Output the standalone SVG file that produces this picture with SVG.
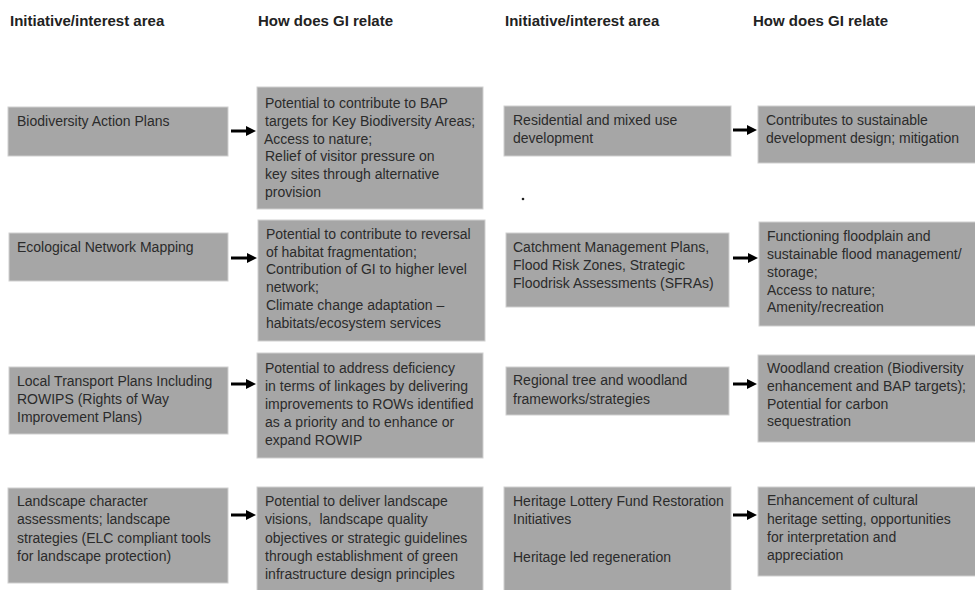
<svg xmlns="http://www.w3.org/2000/svg" width="975" height="590" viewBox="0 0 975 590">
<defs>
<style>
.box{fill:#a6a6a6;stroke:#cfcfcf;stroke-width:1}
.t{font-family:"Liberation Sans",Arial,sans-serif;font-size:14px;fill:#2b2b2b}
.h{font-family:"Liberation Sans",Arial,sans-serif;font-size:15px;font-weight:bold;fill:#222}
.c{stroke:#000;stroke-width:3;fill:none}
</style>
<marker id="ah" markerUnits="userSpaceOnUse" markerWidth="11" markerHeight="11" refX="4" refY="5" orient="auto">
<path d="M0,0 L10,5 L0,10 z" fill="#000"/>
</marker>
</defs>
<rect width="975" height="590" fill="#fff"/>
<g id="headers">
<text class="h" x="10" y="26">Initiative/interest area</text>
<text class="h" x="258" y="26">How does GI relate</text>
<text class="h" x="505" y="26">Initiative/interest area</text>
<text class="h" x="753" y="26">How does GI relate</text>
</g>
<g id="n1a"><rect class="box" x="8" y="107" width="220" height="49"/>
<text class="t" x="17" y="126">Biodiversity Action Plans</text></g>
<g id="n1b"><rect class="box" x="257" y="87" width="226" height="122"/>
<text class="t" x="265" y="108">Potential to contribute to BAP</text>
<text class="t" x="265" y="126">targets for Key Biodiversity Areas;</text>
<text class="t" x="264" y="144">Access to nature;</text>
<text class="t" x="265" y="161">Relief of visitor pressure on</text>
<text class="t" x="265" y="179">key sites through alternative</text>
<text class="t" x="265" y="197">provision</text></g>
<g id="n1c"><rect class="box" x="504" y="106" width="227" height="50"/>
<text class="t" x="513" y="125">Residential and mixed use</text>
<text class="t" x="513" y="143">development</text></g>
<g id="n1d"><rect class="box" x="758" y="106" width="218" height="57"/>
<text class="t" x="766" y="125">Contributes to sustainable</text>
<text class="t" x="766" y="143">development design; mitigation</text></g>
<g id="dot"><circle cx="523" cy="199" r="1.3" fill="#222"/></g>
<g id="n2a"><rect class="box" x="9" y="233" width="219" height="48"/>
<text class="t" x="17" y="252">Ecological Network Mapping</text></g>
<g id="n2b"><rect class="box" x="258" y="220" width="227" height="121"/>
<text class="t" x="266" y="239">Potential to contribute to reversal</text>
<text class="t" x="266" y="257">of habitat fragmentation;</text>
<text class="t" x="266" y="274">Contribution of GI to higher level</text>
<text class="t" x="266" y="292">network;</text>
<text class="t" x="266" y="310">Climate change adaptation –</text>
<text class="t" x="266" y="328">habitats/ecosystem services</text></g>
<g id="n2c"><rect class="box" x="506" y="233" width="223" height="74"/>
<text class="t" x="513" y="252">Catchment Management Plans,</text>
<text class="t" x="513" y="270">Flood Risk Zones, Strategic</text>
<text class="t" x="513" y="288">Floodrisk Assessments (SFRAs)</text></g>
<g id="n2d"><rect class="box" x="759" y="222" width="217" height="104"/>
<text class="t" x="767" y="241">Functioning floodplain and</text>
<text class="t" x="767" y="259">sustainable flood management/</text>
<text class="t" x="767" y="277">storage;</text>
<text class="t" x="767" y="295">Access to nature;</text>
<text class="t" x="767" y="312">Amenity/recreation</text></g>
<g id="n3a"><rect class="box" x="9" y="367" width="219" height="67"/>
<text class="t" x="17" y="386">Local Transport Plans Including</text>
<text class="t" x="17" y="404">ROWIPS (Rights of Way</text>
<text class="t" x="17" y="422">Improvement Plans)</text></g>
<g id="n3b"><rect class="box" x="257" y="353" width="226" height="105"/>
<text class="t" x="265" y="373">Potential to address deficiency</text>
<text class="t" x="265" y="391">in terms of linkages by delivering</text>
<text class="t" x="265" y="409">improvements to ROWs identified</text>
<text class="t" x="265" y="427">as a priority and to enhance or</text>
<text class="t" x="265" y="445">expand ROWIP</text></g>
<g id="n3c"><rect class="box" x="506" y="367" width="223" height="48"/>
<text class="t" x="513" y="385">Regional tree and woodland</text>
<text class="t" x="513" y="404">frameworks/strategies</text></g>
<g id="n3d"><rect class="box" x="758" y="355" width="218" height="87"/>
<text class="t" x="767" y="373">Woodland creation (Biodiversity</text>
<text class="t" x="767" y="391">enhancement and BAP targets);</text>
<text class="t" x="767" y="409">Potential for carbon</text>
<text class="t" x="767" y="426">sequestration</text></g>
<g id="n4a"><rect class="box" x="8" y="488" width="220" height="95"/>
<text class="t" x="17" y="506">Landscape character</text>
<text class="t" x="17" y="524">assessments; landscape</text>
<text class="t" x="17" y="543">strategies (ELC compliant tools</text>
<text class="t" x="17" y="561">for landscape protection)</text></g>
<g id="n4b"><rect class="box" x="257" y="487" width="226" height="104"/>
<text class="t" x="265" y="506">Potential to deliver landscape</text>
<text class="t" x="265" y="524" xml:space="preserve">visions,  landscape quality</text>
<text class="t" x="265" y="543">objectives or strategic guidelines</text>
<text class="t" x="265" y="561">through establishment of green</text>
<text class="t" x="265" y="579">infrastructure design principles</text></g>
<g id="n4c"><rect class="box" x="504" y="487" width="227" height="104"/>
<text class="t" x="513" y="506">Heritage Lottery Fund Restoration</text>
<text class="t" x="513" y="524">Initiatives</text>
<text class="t" x="513" y="562">Heritage led regeneration</text></g>
<g id="n4d"><rect class="box" x="758" y="487" width="218" height="89"/>
<text class="t" x="767" y="505">Enhancement of cultural</text>
<text class="t" x="767" y="524">heritage setting, opportunities</text>
<text class="t" x="767" y="542">for interpretation and</text>
<text class="t" x="767" y="560">appreciation</text></g>
<g id="connectors">
<line class="c" x1="231" y1="131" x2="250" y2="131" marker-end="url(#ah)"/>
<line class="c" x1="733" y1="130" x2="751" y2="130" marker-end="url(#ah)"/>
<line class="c" x1="231" y1="258" x2="251" y2="258" marker-end="url(#ah)"/>
<line class="c" x1="733" y1="258" x2="752" y2="258" marker-end="url(#ah)"/>
<line class="c" x1="231" y1="384" x2="250" y2="384" marker-end="url(#ah)"/>
<line class="c" x1="733" y1="384" x2="751" y2="384" marker-end="url(#ah)"/>
<line class="c" x1="231" y1="515" x2="250" y2="515" marker-end="url(#ah)"/>
<line class="c" x1="733" y1="515" x2="751" y2="515" marker-end="url(#ah)"/>
</g>
</svg>
